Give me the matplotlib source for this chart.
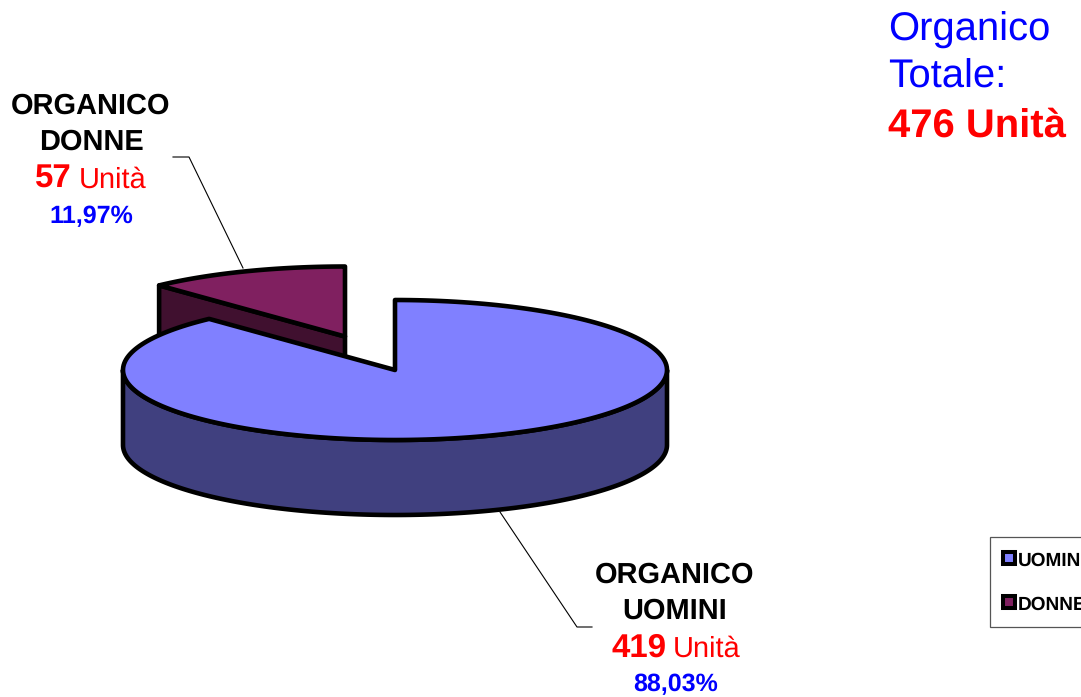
import numpy as np
import matplotlib
matplotlib.use("Agg")
import matplotlib.pyplot as plt
from matplotlib.patches import Polygon, Rectangle

plt.rcParams['font.family'] = ['Liberation Sans', 'DejaVu Sans']
plt.rcParams['text.hinting'] = 'no_hinting'
plt.rcParams['text.hinting_factor'] = 1

categories = ["UOMINI", "DONNE"]
values = [419, 57]
percent_labels = ["88,03%", "11,97%"]
total_label = "476 Unità"
top_colors = ["#8080FF", "#802060"]
side_colors = ["#40407F", "#40102F"]

fig = plt.figure(figsize=(10.81, 6.97), dpi=100)
ax = fig.add_axes([0, 0, 1, 1])
ax.set_xlim(0, 1081)
ax.set_ylim(697, 0)
ax.axis("off")

RX, RY, DEPTH = 272, 70, 75
LW = 3.3
fractions = np.array(values) / sum(values)
men_end = fractions[0] * 2 * np.pi


def rim(cx, cy, a0, a1, n=200):
    t = np.linspace(a0, a1, n)
    return np.column_stack([cx + RX * np.sin(t), cy - RY * np.cos(t)])


def poly(pts, fc, z):
    ax.add_patch(Polygon(pts, closed=True, facecolor=fc, edgecolor="black",
                         linewidth=LW, joinstyle="round", zorder=z))


down = np.array([0, DEPTH])

# exploded slice (women)
c2 = np.array([345.0, 336.5])
rim2 = rim(c2[0], c2[1], men_end, 2 * np.pi)
poly(np.vstack([c2, c2 + down, rim2[0] + down, rim2[0]]), side_colors[1], 1)
poly(np.vstack([c2, rim2]), top_colors[1], 2)

# main slice (men)
c1 = np.array([395.0, 370.0])
front = rim(c1[0], c1[1], np.pi / 2, 3 * np.pi / 2)
poly(np.vstack([front, (front + down)[::-1]]), side_colors[0], 3)
poly(np.vstack([c1, rim(c1[0], c1[1], 0, men_end)]), top_colors[0], 4)

# leader lines
ax.plot([173, 189, 243], [157, 157, 268], color="black", lw=0.8, zorder=0)
ax.plot([500, 577, 592], [512, 627, 627], color="black", lw=0.8, zorder=0)

BLUE = "#0000FF"
RED = "#FF0000"
kw = dict(va="baseline", zorder=6)

# women's label
ax.text(91, 114, "ORGANICO", ha="center", fontsize=20.6, fontweight="bold", **kw)
ax.text(91, 150, categories[1], ha="center", fontsize=20.6, fontweight="bold", **kw)
ax.text(35, 188, str(values[1]), ha="left", fontsize=23.5, fontweight="bold", color=RED, **kw)
ax.text(79, 188, "Unità", ha="left", fontsize=20.6, color=RED, **kw)
ax.text(91, 223, percent_labels[1], ha="center", fontsize=18.2, fontweight="bold", color=BLUE, **kw)

# men's label
ax.text(675, 583, "ORGANICO", ha="center", fontsize=20.6, fontweight="bold", **kw)
ax.text(675, 619, categories[0], ha="center", fontsize=20.6, fontweight="bold", **kw)
ax.text(611, 657, str(values[0]), ha="left", fontsize=23.5, fontweight="bold", color=RED, **kw)
ax.text(673, 657, "Unità", ha="left", fontsize=20.6, color=RED, **kw)
ax.text(676, 691, percent_labels[0], ha="center", fontsize=18.2, fontweight="bold", color=BLUE, **kw)

# title
ax.text(888, 41, "Organico", ha="left", fontsize=29, color=BLUE, **kw)
ax.text(888, 88, "Totale:", ha="left", fontsize=29, color=BLUE, **kw)
ax.text(888, 137, total_label, ha="left", fontsize=29, fontweight="bold", color=RED, **kw)

# legend (runs past the picture's right edge)
ax.add_patch(Rectangle((990, 537), 120, 90, facecolor="white", edgecolor="#555555",
                       linewidth=0.9, zorder=5))
for y, name, col in zip([552, 596], categories, top_colors):
    ax.add_patch(Rectangle((1003, y), 12, 12, facecolor=col, edgecolor="black",
                           linewidth=2.9, zorder=6))
    ax.text(1018, y + 14, name, ha="left", fontsize=13.6, fontweight="bold", **kw)

fig.savefig("out.png", dpi=100, facecolor="white")
